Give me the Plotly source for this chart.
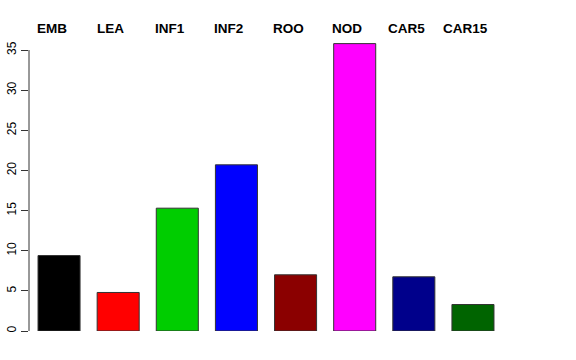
import plotly.graph_objects as go

categories = ["EMB", "LEA", "INF1", "INF2", "ROO", "NOD", "CAR5", "CAR15"]
values = [9.4, 4.8, 15.3, 20.7, 7.0, 35.8, 6.75, 3.3]
colors = ["#000000", "#FF0000", "#00CD00", "#0000FF", "#8B0000", "#FF00FF", "#00008B", "#006400"]
y_ticks = [0, 5, 10, 15, 20, 25, 30, 35]

fig = go.Figure()
fig.add_trace(go.Bar(
    x=categories, y=values,
    marker=dict(color=colors, line=dict(color="#333333", width=1)),
    hoverinfo="x+y",
))

for c in categories:
    fig.add_annotation(x=c, y=1.045, xref="x", yref="paper", text="<b>%s</b>" % c,
                       showarrow=False, yanchor="middle", xanchor="center", xshift=-7.5,
                       font=dict(family="Liberation Sans, Arial, sans-serif", size=13.5, color="black"))

# y axis line only spanning the tick range, as in R
fig.add_shape(type="line", xref="paper", yref="y", x0=0, x1=0, y0=min(y_ticks), y1=max(y_ticks),
              line=dict(color="#333333", width=1))

fig.update_layout(
    width=576, height=360,
    margin=dict(l=29, r=73, t=42, b=29, autoexpand=False),
    paper_bgcolor="white", plot_bgcolor="white",
    bargap=0.289,
    showlegend=False,
    xaxis=dict(range=[-0.508, 7.508], showticklabels=False, showline=False, ticks="",
               showgrid=False, zeroline=False, fixedrange=True, automargin=False),
    yaxis=dict(range=[0, 36], tickvals=y_ticks, ticks="outside", ticklen=7, tickcolor="#333333",
               tickangle=-90, showgrid=False, zeroline=False, showline=False, automargin=False,
               tickfont=dict(family="Liberation Sans, Arial, sans-serif", size=12, color="black"),
               fixedrange=True),
)

# remove the browser's default 8px body margin so the figure sits at the page origin
fig.write_html("out.html", config={"displayModeBar": False},
               post_script="document.body.style.margin='0';document.body.style.overflow='hidden';")
